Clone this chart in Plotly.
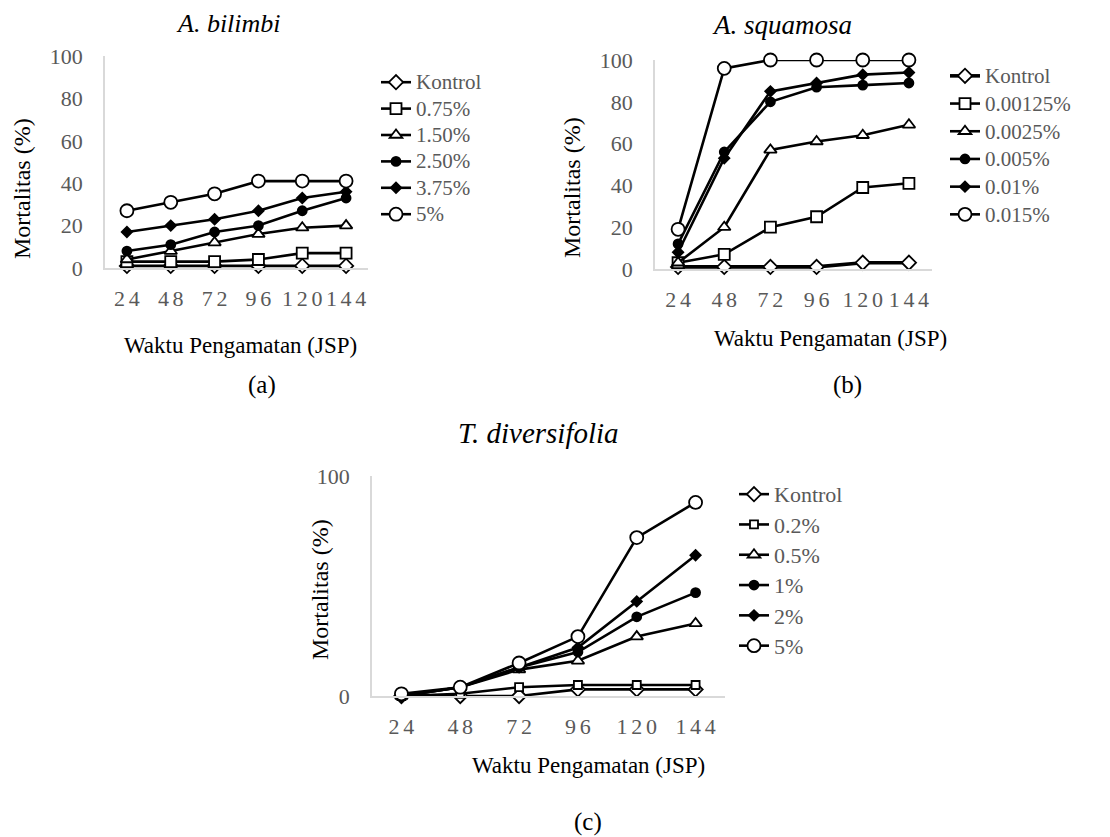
import plotly.graph_objects as go

W, H = 1110, 837

# ---------------- data ----------------
hours = ["24", "48", "72", "96", "120", "144"]
HS = "\u2006"
hour_text = [HS.join(list(h)) for h in ["24", "48", "72", "96", "120", "144"]]

a_names = ["Kontrol", "0.75%", "1.50%", "2.50%", "3.75%", "5%"]
a_kontrol = [1, 1, 1, 1, 1, 1]
a_075 = [3, 3, 3, 4, 7, 7]
a_150 = [4, 8, 12, 16, 19, 20]
a_250 = [8, 11, 17, 20, 27, 33]
a_375 = [17, 20, 23, 27, 33, 36]
a_500 = [27, 31, 35, 41, 41, 41]

b_names = ["Kontrol", "0.00125%", "0.0025%", "0.005%", "0.01%", "0.015%"]
b_kontrol = [1, 1, 1, 1, 3, 3]
b_000125 = [3, 7, 20, 25, 39, 41]
b_00025 = [3, 20, 57, 61, 64, 69]
b_0005 = [12, 56, 80, 87, 88, 89]
b_001 = [8, 53, 85, 89, 93, 94]
b_0015 = [19, 96, 100, 100, 100, 100]

c_names = ["Kontrol", "0.2%", "0.5%", "1%", "2%", "5%"]
c_kontrol = [0, 0, 0, 3, 3, 3]
c_02 = [0, 1, 4, 5, 5, 5]
c_05 = [0, 4, 12, 16, 27, 33]
c_1 = [0, 4, 13, 20, 36, 47]
c_2 = [0, 4, 13, 22, 43, 64]
c_5 = [1, 4, 15, 27, 72, 88]

# ---------------- styling helpers ----------------
FONT = "Liberation Serif, Times New Roman, serif"
GRAY = "#595959"
AXIS = "#d9d9d9"

def px(x):
    return x / W

def py(y):
    return 1 - y / H

styles_ab = [
    ("diamond", 11, "white"),
    ("square", 11, "white"),
    ("triangle-up", 11, "white"),
    ("circle", 9, "black"),
    ("diamond", 8, "black"),
    ("circle", 13, "white"),
]
styles_c = [
    ("diamond", 11, "white"),
    ("square", 8, "white"),
    ("triangle-up", 11, "white"),
    ("circle", 9, "black"),
    ("diamond", 8, "black"),
    ("circle", 13, "white"),
]

fig = go.Figure()

def add_panel(series, names, styles, xa, ya, legend, name_size, kontrol_width=2.6):
    for i, (vals, name, st) in enumerate(zip(series, names, styles)):
        sym, size, fill = st
        fig.add_trace(go.Scatter(
            x=hours, y=vals, mode="lines+markers",
            name='<span style="font-size:%dpx">%s</span>' % (name_size, name),
            xaxis=xa, yaxis=ya, legend=legend, cliponaxis=False,
            line=dict(color="black", width=kontrol_width if i == 0 else 2.6),
            marker=dict(symbol=sym, size=size, color=fill,
                        line=dict(color="black", width=1.8)),
        ))

add_panel([a_kontrol, a_075, a_150, a_250, a_375, a_500], a_names, styles_ab, "x", "y", "legend", 21)
add_panel([b_kontrol, b_000125, b_00025, b_0005, b_001, b_0015], b_names, styles_ab, "x2", "y2", "legend2", 21, kontrol_width=3.6)
add_panel([c_kontrol, c_02, c_05, c_1, c_2, c_5], c_names, styles_c, "x3", "y3", "legend3", 22)

def xaxis(domain, anchor):
    return dict(domain=domain, anchor=anchor, type="category", range=[-0.5, 5.5],
                tickmode="array", tickvals=hours, ticktext=hour_text, tickangle=0,
                showline=True, linecolor=AXIS, linewidth=1.5, showgrid=False, zeroline=False,
                ticks="outside", ticklen=10, tickcolor="rgba(0,0,0,0)", automargin=False,
                tickfont=dict(family=FONT, size=22, color=GRAY))

def yaxis(domain, anchor, tickvals):
    return dict(domain=domain, anchor=anchor, range=[0, 100], tickvals=tickvals,
                showline=True, linecolor=AXIS, linewidth=1.5, showgrid=False, zeroline=False,
                ticks="outside", ticklen=16, tickcolor="rgba(0,0,0,0)", automargin=False,
                tickfont=dict(family=FONT, size=22, color=GRAY))

def legend(x, y, size):
    return dict(x=px(x), y=py(y), bgcolor="rgba(0,0,0,0)", xanchor="left", yanchor="top",
                font=dict(family=FONT, size=size, color=GRAY), tracegroupgap=0)

annotations = []
def text(t, x, y, size, color="black", italic=False, angle=0):
    if italic:
        t = "<i>" + t + "</i>"
    annotations.append(dict(text=t, x=px(x), y=py(y), xref="paper", yref="paper",
                            showarrow=False, xanchor="center", yanchor="middle",
                            textangle=angle, font=dict(family=FONT, size=size, color=color)))

text("A. bilimbi", 228, 23, 26, italic=True)
text("A. squamosa", 782, 25, 27, italic=True)
text("T. diversifolia", 538, 433, 29, italic=True)
for xx, yy in [(22, 189), (572, 188), (320, 590)]:
    text("Mortalitas (%)", xx, yy, 24, angle=-90)
text("Waktu Pengamatan (JSP)", 240, 345, 23)
text("Waktu Pengamatan (JSP)", 830, 338, 23)
text("Waktu Pengamatan (JSP)", 588, 765, 23)
text("(a)", 262, 385, 25)
text("(b)", 847, 385, 25)
text("(c)", 588, 822, 25)

fig.update_layout(
    width=W, height=H,
    margin=dict(l=0, r=0, t=0, b=0, autoexpand=False),
    paper_bgcolor="white", plot_bgcolor="white",
    xaxis=xaxis([px(105), px(368)], "y"),
    yaxis=yaxis([py(268), py(56)], "x", [0, 20, 40, 60, 80, 100]),
    xaxis2=xaxis([px(655), px(932)], "y2"),
    yaxis2=yaxis([py(269), py(60)], "x2", [0, 20, 40, 60, 80, 100]),
    xaxis3=xaxis([px(372), px(725)], "y3"),
    yaxis3=yaxis([py(696), py(476)], "x3", [0, 100]),
    legend=legend(376, 64, 18),
    legend2=legend(945, 57, 19),
    legend3=legend(734, 474, 21),
    annotations=annotations,
    showlegend=True,
)

fig.write_html("out.html", config={"displayModeBar": False},
               post_script="document.body.style.margin='0';document.body.style.overflow='hidden';")
